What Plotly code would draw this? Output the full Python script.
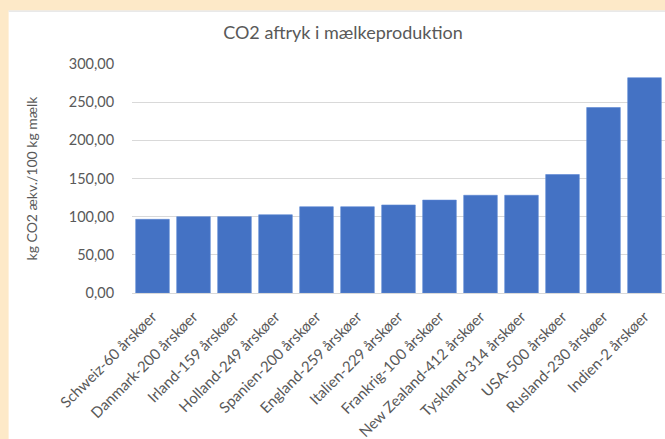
import plotly.graph_objects as go

categories = [
    "Schweiz-60 årskøer", "Danmark-200 årskøer", "Irland-159 årskøer",
    "Holland-249 årskøer", "Spanien-200 årskøer", "England-259 årskøer",
    "Italien-229 årskøer", "Frankrig-100 årskøer", "New Zealand-412 årskøer",
    "Tyskland-314 årskøer", "USA-500 årskøer", "Rusland-230 årskøer",
    "Indien-2 årskøer",
]
values = [96.5, 100, 100, 102.5, 113, 113, 115.3, 121.7, 128, 128, 155.2, 243, 282]
y_ticks = [0, 50, 100, 150, 200, 250, 300]
y_tick_labels = ["0,00", "50,00", "100,00", "150,00", "200,00", "250,00", "300,00"]

W, H = 665, 439
GRAY = "#595959"
FONT = "Lato"
L, R, T, B = 131.5, 0, 63.5, 146
PH = H - T - B
PW = W - L - R

fig = go.Figure(go.Bar(
    x=categories, y=values,
    marker=dict(color="#4472C4", line=dict(width=0.6, color="#5a86d4")),
    hoverinfo="skip",
))

fig.update_layout(
    width=W, height=H,
    margin=dict(l=L, r=R, t=T, b=B, autoexpand=False),
    paper_bgcolor="#FDE9C8",
    plot_bgcolor="white",
    bargap=0.18,
    showlegend=False,
    font=dict(family=FONT, color=GRAY, size=14),
    title=dict(
        text="CO2 aftryk i mælkeproduktion",
        font=dict(family=FONT, size=18, color=GRAY),
        xref="container", x=343 / W, xanchor="center",
        yref="container", y=1 - 33 / H, yanchor="middle",
    ),
    shapes=[
        dict(type="rect", xref="paper", yref="paper", layer="below",
             x0=(8 - L) / PW, x1=1.02,
             y0=-B / PH - 0.02, y1=(H - 10 - B) / PH,
             fillcolor="white", line=dict(width=0)),
        dict(type="line", xref="paper", yref="paper", layer="below",
             x0=(8 - L) / PW, x1=1.02,
             y0=(H - 10.5 - B) / PH, y1=(H - 10.5 - B) / PH,
             line=dict(width=1.2, color="#E2E2E2")),
    ],
)

fig.update_xaxes(
    tickangle=-45,
    tickfont=dict(family=FONT, size=15, color=GRAY),
    showgrid=False, showline=False, zeroline=False,
    ticks="outside", ticklen=8, tickcolor="rgba(0,0,0,0)",
)
fig.update_yaxes(
    range=[0, 300],
    tickvals=y_ticks, ticktext=y_tick_labels,
    tickfont=dict(family=FONT, size=14.5, color=GRAY),
    showgrid=True, gridcolor="#D9D9D9", gridwidth=1,
    zeroline=True, zerolinecolor="#D9D9D9", zerolinewidth=1,
    showline=False,
    ticks="outside", ticklen=14, tickcolor="rgba(0,0,0,0)",
    title=dict(text="kg CO2 ækv./100 kg mælk",
               font=dict(family=FONT, size=14, color=GRAY), standoff=27),
)

fig.write_html("out.html", config={"displayModeBar": False},
               post_script="document.body.style.margin='0';")
